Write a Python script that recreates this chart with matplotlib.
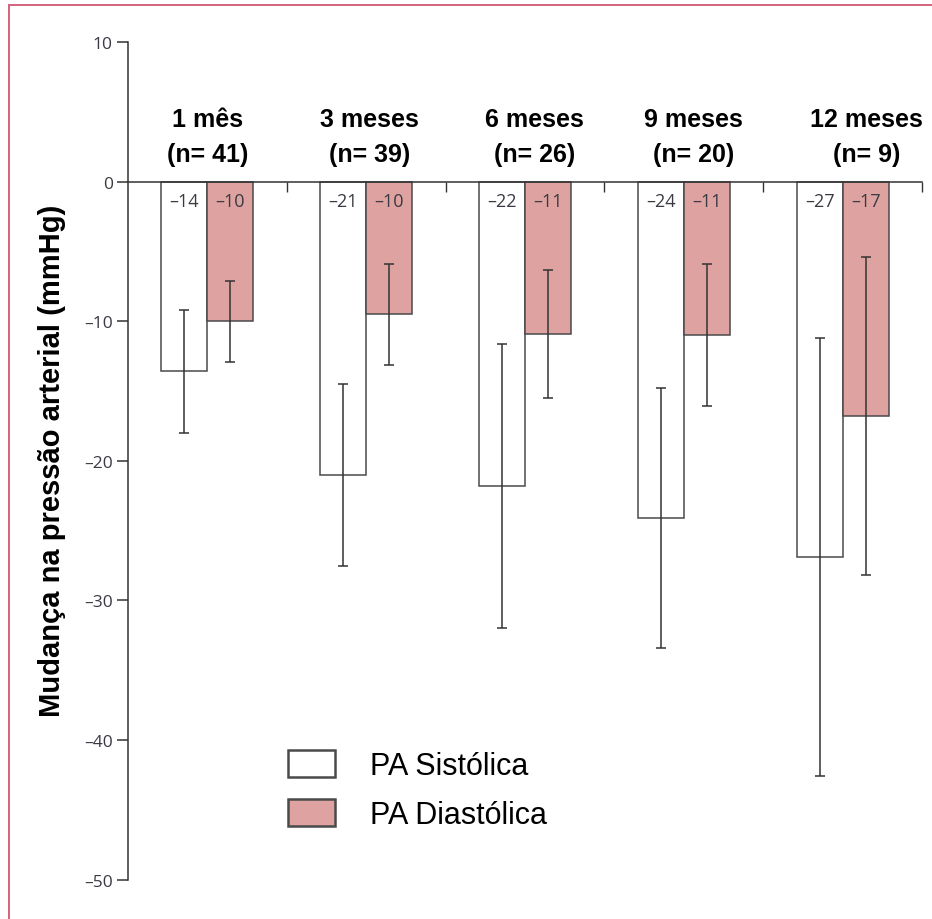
import matplotlib
matplotlib.use("Agg")
import matplotlib.pyplot as plt
from matplotlib.patches import Patch
from matplotlib.lines import Line2D
import numpy as np

# ---- data ----
groups = ["1 mês", "3 meses", "6 meses", "9 meses", "12 meses"]
n_labels = ["(n= 41)", "(n= 39)", "(n= 26)", "(n= 20)", "(n= 9)"]
sys_mean = [-13.6, -21.0, -21.8, -24.1, -26.9]
sys_err = [4.4, 6.5, 10.2, 9.3, 15.7]
dia_mean = [-10.0, -9.5, -10.9, -11.0, -16.8]
dia_err = [2.9, 3.6, 4.6, 5.1, 11.4]
sys_text = ["–14", "–21", "–22", "–24", "–27"]
dia_text = ["–10", "–10", "–11", "–11", "–17"]
y_ticks = [10, 0, -10, -20, -30, -40, -50]
y_ticklabels = ["10", "0", "–10", "–20", "–30", "–40", "–50"]
series_names = ["PA Sistólica", "PA Diastólica"]
y_label = "Mudança na pressão arterial (mmHg)"

# ---- layout / style ----
W, H = 932, 920
pink = "#dea3a0"
edge = "#4a4a4a"
tick_col = "#3a3a44"
label_dx = [0.0, 0.02, 0.06, 0.06, 0.15]
bw = 0.29

fig = plt.figure(figsize=(W / 100, H / 100), dpi=100)
fig.patch.set_facecolor("white")

# pink frame
frame_col = "#d4627e"
fig.add_artist(Line2D([9 / W, 9 / W], [0, 1 - 6 / H], transform=fig.transFigure, color=frame_col, lw=1.4))
fig.add_artist(Line2D([9 / W, 1], [1 - 6 / H, 1 - 6 / H], transform=fig.transFigure, color=frame_col, lw=1.4))

ax = fig.add_axes([128 / W, 1 - 880.7 / H, (922 - 128) / W, (880.7 - 43) / H])
x = np.arange(len(groups))

ax.bar(x - bw / 2, sys_mean, width=bw, color="white", edgecolor=edge, linewidth=1.1, zorder=2)
ax.bar(x + bw / 2, dia_mean, width=bw, color=pink, edgecolor=edge, linewidth=1.1, zorder=2)
ax.errorbar(x - bw / 2, sys_mean, yerr=sys_err, fmt="none", ecolor="#333333",
            elinewidth=1.1, capsize=3.6, capthick=1.1, zorder=3)
ax.errorbar(x + bw / 2, dia_mean, yerr=dia_err, fmt="none", ecolor="#333333",
            elinewidth=1.1, capsize=3.6, capthick=1.1, zorder=3)

for i in range(len(groups)):
    ax.text(x[i] - bw / 2, -1.4, sys_text[i], ha="center", va="center",
            fontsize=13, color=tick_col, family="Open Sans", zorder=4)
    ax.text(x[i] + bw / 2, -1.4, dia_text[i], ha="center", va="center",
            fontsize=13, color=tick_col, family="Open Sans", zorder=4)
    ax.text(x[i] + label_dx[i], 4.5, groups[i], ha="center", va="center",
            fontsize=18, fontweight="bold", family="Liberation Sans")
    ax.text(x[i] + label_dx[i], 2.0, n_labels[i], ha="center", va="center",
            fontsize=18, fontweight="bold", family="Liberation Sans")

ax.set_xlim(-0.5, len(groups) - 0.5)
ax.set_ylim(-50, 10)
ax.spines["top"].set_visible(False)
ax.spines["right"].set_visible(False)
ax.spines["bottom"].set_position(("data", 0))
for s in ("left", "bottom"):
    ax.spines[s].set_color("#333333")
    ax.spines[s].set_linewidth(1.1)

ax.set_yticks(y_ticks)
ax.set_yticklabels(y_ticklabels, family="Open Sans", fontsize=12.5, color=tick_col)
ax.tick_params(axis="y", length=8, width=1.1, color="#333333", pad=3)
ax.set_xticks(x + 0.5)
ax.set_xticklabels([])
ax.tick_params(axis="x", direction="out", length=7, width=1.0, color="#333333")

fig.text(52 / W, 1 - 461 / H, y_label, rotation=90, ha="center", va="center",
         fontsize=21, fontweight="bold", family="Liberation Sans")

handles = [Patch(facecolor="white", edgecolor=edge, linewidth=1.8),
           Patch(facecolor=pink, edgecolor=edge, linewidth=1.8)]
leg = ax.legend(handles, series_names, loc="upper left",
                bbox_to_anchor=(288 / W, 1 - 751 / H), bbox_transform=fig.transFigure,
                frameon=False, fontsize=22, handlelength=1.54, handleheight=1.0,
                handletextpad=1.14, labelspacing=0.58, borderpad=0, borderaxespad=0)
for t in leg.get_texts():
    t.set_family("Liberation Sans")

fig.savefig("out.png", dpi=100)
